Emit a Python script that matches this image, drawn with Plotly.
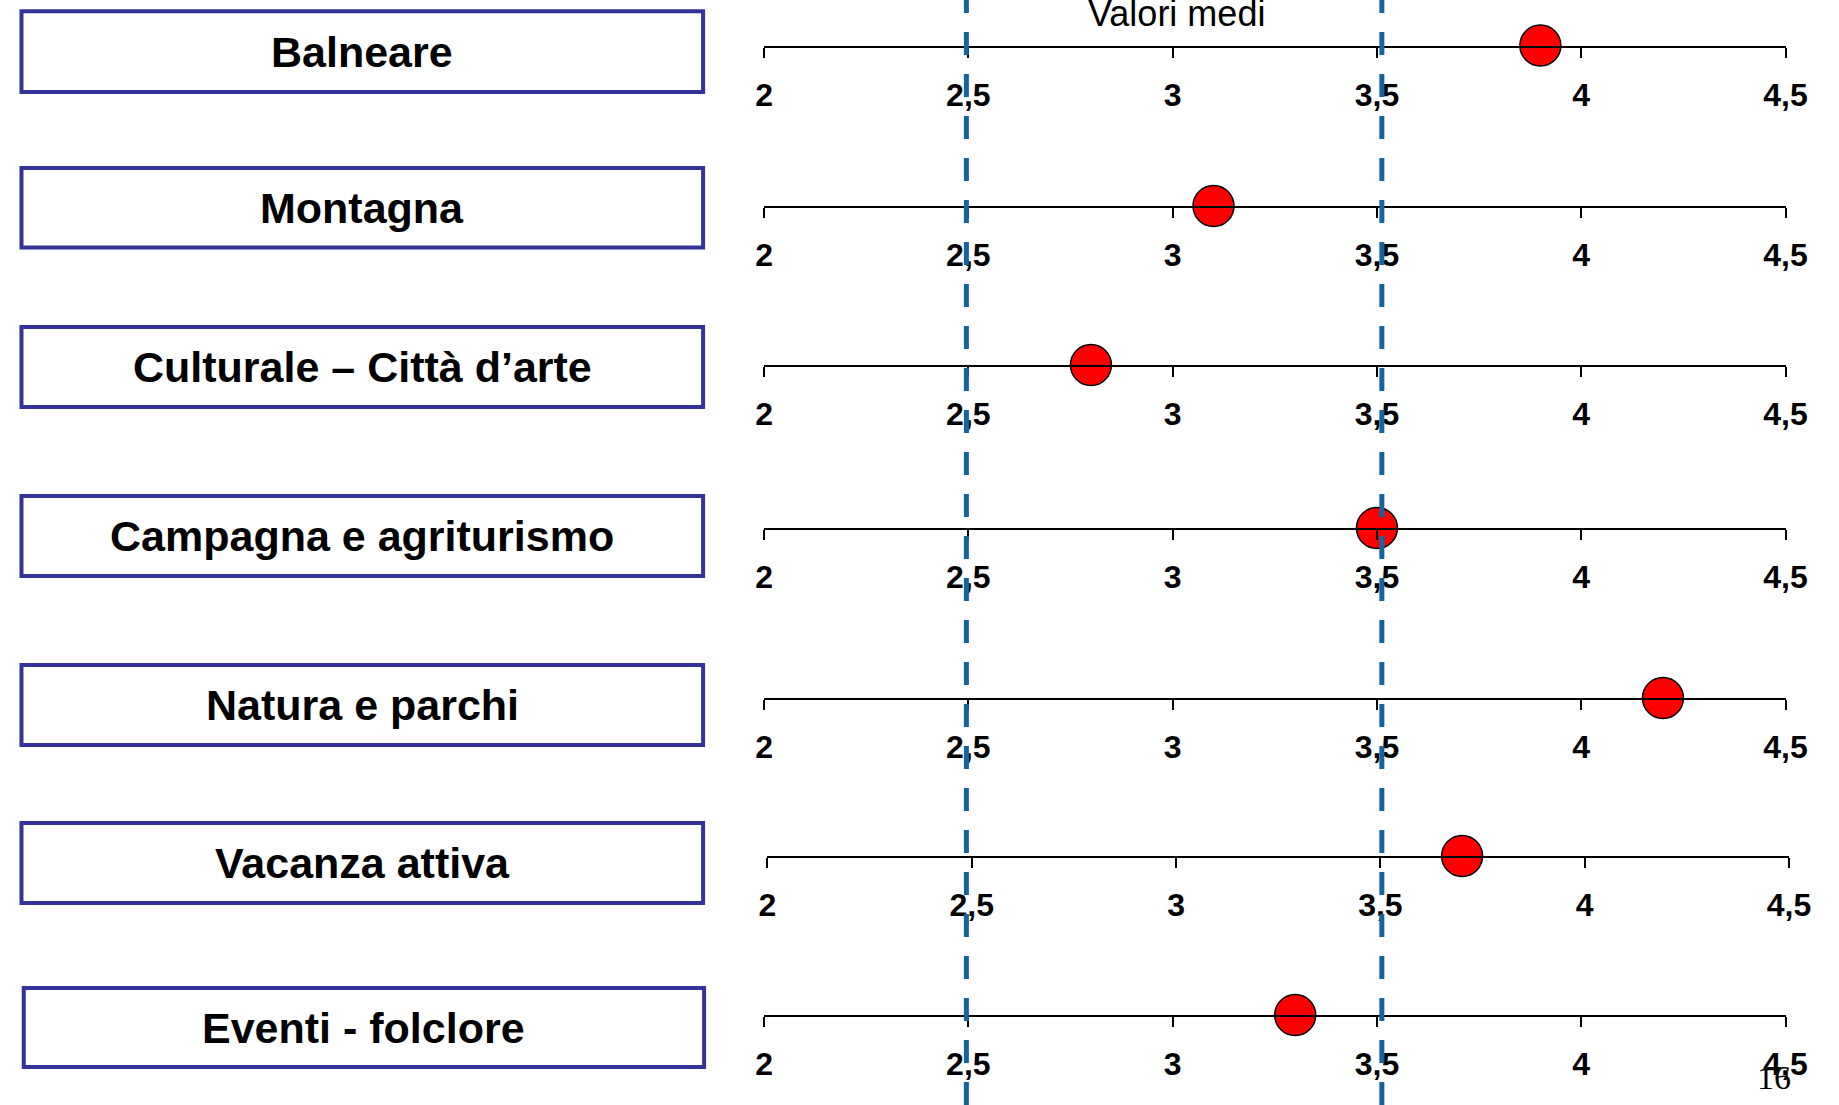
import plotly.graph_objects as go

W, H = 1839, 1105

categories = [
    "Balneare",
    "Montagna",
    "Culturale – Città d’arte",
    "Campagna e agriturismo",
    "Natura e parchi",
    "Vacanza attiva",
    "Eventi - folclore",
]
values = [3.9, 3.1, 2.8, 3.5, 4.2, 3.7, 3.3]
thresholds = [2.5, 3.5]
tick_vals = [2, 2.5, 3, 3.5, 4, 4.5]
tick_text = ["2", "2,5", "3", "3,5", "4", "4,5"]
x_range = [2, 4.5]
title_text = "Valori medi"
page_number = "16"

# layout positions (pixels) for each row
axis_y_px = [45.5, 206, 365, 528, 698, 856, 1015]
axis_shift_px = [0, 0, 0, 0, 0, 3.5, 0]
box_px = [(12.7, 706, 11.3, 92), (12.7, 706, 168, 247.5), (12.7, 706, 327, 407),
          (12.7, 706, 496, 576), (12.7, 706, 665, 745), (12.7, 706, 823, 903),
          (15, 707, 988, 1067)]
axis_x0, axis_x1 = 768, 1807

fig = go.Figure()
layout = {}
shapes = []
annotations = []

for i, (cat, val) in enumerate(zip(categories, values)):
    n = i + 1
    sfx = "" if n == 1 else str(n)
    yb = 1 - axis_y_px[i] / H
    layout["xaxis" + sfx] = dict(
        domain=[(axis_x0 + axis_shift_px[i]) / W, (axis_x1 + axis_shift_px[i]) / W],
        range=x_range, anchor="y" + sfx,
        showline=True, linecolor="black", linewidth=2,
        ticks="outside", ticklen=10, tickwidth=2, tickcolor="black",
        tickvals=tick_vals, ticktext=tick_text,
        tickfont=dict(family="Liberation Sans, Arial", size=32, color="black", weight="bold"),
        ticklabelstandoff=10,
        showgrid=False, zeroline=False, fixedrange=True,
    )
    layout["yaxis" + sfx] = dict(
        domain=[yb, min(yb + 0.03, 1)], range=[0, 1], anchor="x" + sfx,
        visible=False, fixedrange=True,
    )
    fig.add_trace(go.Scatter(
        x=[val], y=[0], xaxis="x" + sfx, yaxis="y" + sfx,
        mode="markers", cliponaxis=False, showlegend=False, hoverinfo="x",
        marker=dict(size=41, color="#ff0000", line=dict(color="black", width=1.5)),
    ))

    # category label box
    bx0, bx1, by0, by1 = box_px[i]
    shapes.append(dict(
        type="rect", xref="paper", yref="paper",
        x0=bx0 / W, x1=bx1 / W, y0=1 - by1 / H, y1=1 - by0 / H,
        line=dict(color="#333399", width=4), fillcolor="white", layer="above",
    ))
    annotations.append(dict(
        text=cat, xref="paper", yref="paper",
        x=(bx0 + bx1) / 2 / W, y=1 - (by0 + by1) / 2 / H,
        xanchor="center", yanchor="middle", showarrow=False,
        font=dict(family="Liberation Sans, Arial", size=43, color="black", weight="bold"),
    ))

# overlay subplot for the dashed reference lines (drawn on top)
layout["xaxis8"] = dict(domain=[762.5 / W, 1819 / W], range=x_range, anchor="y8",
                        visible=False, fixedrange=True)
layout["yaxis8"] = dict(domain=[0, 1], range=[0, 1], anchor="x8",
                        visible=False, fixedrange=True)
for t in thresholds:
    fig.add_trace(go.Scatter(
        x=[t, t], y=[0, 1], xaxis="x8", yaxis="y8", mode="lines",
        showlegend=False, hoverinfo="skip",
        line=dict(color="#15659c", width=5, dash="23px,19px"),
    ))

annotations.append(dict(
    text=title_text, xref="paper", yref="paper", x=1188 / W, y=1 - 13.5 / H,
    xanchor="center", yanchor="middle", showarrow=False,
    font=dict(family="Liberation Sans, Arial", size=36, color="black"),
))
annotations.append(dict(
    text=page_number, xref="paper", yref="paper", x=1795 / W, y=1 - 1077 / H,
    xanchor="center", yanchor="middle", showarrow=False,
    font=dict(family="Liberation Serif, Times New Roman", size=34, color="black"),
))

fig.update_layout(
    width=W, height=H,
    margin=dict(l=0, r=0, t=0, b=0),
    paper_bgcolor="white", plot_bgcolor="rgba(0,0,0,0)",
    showlegend=False,
    shapes=shapes, annotations=annotations,
    **layout,
)

fig.write_html(
    "out.html",
    config={"displayModeBar": False},
    post_script="document.body.style.margin='0';document.body.style.overflow='hidden';",
)
